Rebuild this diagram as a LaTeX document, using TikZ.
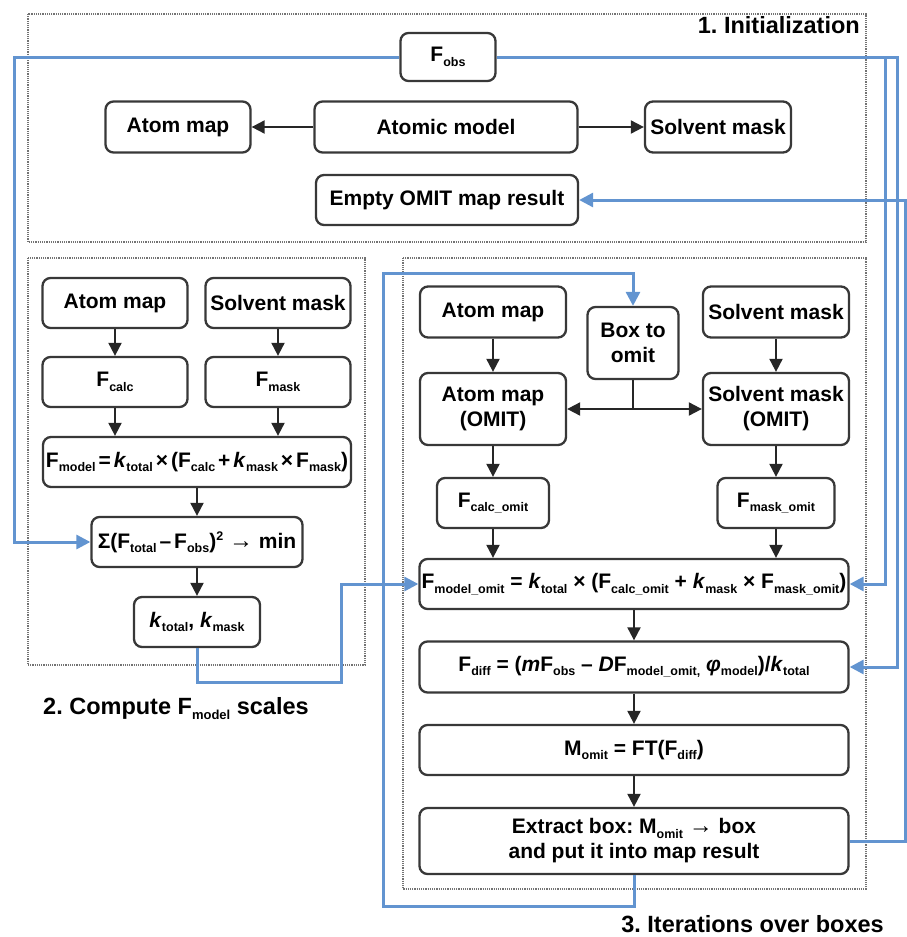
\documentclass[tikz,border=0pt]{standalone}
\usepackage{fontspec}
\setmainfont{Liberation Sans}
\usetikzlibrary{arrows.meta}
\definecolor{lblue}{RGB}{98,148,208}
\newcommand\lsub[1]{\raisebox{-4.5pt}{\fontsize{12.5}{12.5}\selectfont #1}}
\newcommand\lsup[1]{\raisebox{8pt}{\fontsize{12.5}{12.5}\selectfont #1}}
\newcommand\fsp{\hspace{3pt}}
\frenchspacing
\begin{document}
\begin{tikzpicture}[x=1pt,y=-1pt,
 box/.style={draw=black!78, line width=2.3pt, rounded corners=8pt, fill=white, inner sep=0pt, align=center, font=\fontsize{21}{25}\selectfont\bfseries},
 panel/.style={draw=black!55, densely dotted, line width=1.2pt},
 arr/.style={draw=black!85, line width=2pt, -{Triangle[length=13pt,width=13pt]}},
 barr/.style={draw=lblue, line width=3pt, -{Triangle[length=14pt,width=14pt]}},
 title/.style={font=\fontsize{23.5}{28}\selectfont\bfseries, inner sep=0pt}]
\useasboundingbox (0,0) rectangle (907,937);
% panels
\draw[panel] (28,14) rectangle (866,242);
\draw[panel] (28,258) rectangle (365,665);
\draw[panel] (403,258) rectangle (866,889);
\node[title, anchor=base east] (t1) at (860,33) {1. Initialization};
\node[title, anchor=base west] (t2) at (43,714) {2. Compute F\raisebox{-5pt}{\fontsize{13}{13}\selectfont model} scales};
\node[title, anchor=base east] (t3) at (884,932) {3. Iterations over boxes};
% panel 1
\node[box, minimum width=95pt, minimum height=48pt] (fobs) at (448,57) {F\lsub{obs}};
\node[box, minimum width=145pt, minimum height=51pt] (am1) at (178,127) {Atom map};
\node[box, minimum width=263pt, minimum height=51pt] (atm) at (446,127) {Atomic model};
\node[box, minimum width=146pt, minimum height=51pt] (sm1) at (718,127) {Solvent mask};
\node[box, minimum width=262pt, minimum height=50pt] (empty) at (447,200) {Empty OMIT map result};
% panel 2
\node[box, minimum width=145pt, minimum height=50pt] (am2) at (115,303) {Atom map};
\node[box, minimum width=145pt, minimum height=50pt] (sm2) at (278,303) {Solvent mask};
\node[box, minimum width=145pt, minimum height=50pt] (fcalc) at (115,382) {F\lsub{calc}};
\node[box, minimum width=145pt, minimum height=50pt] (fmask) at (278,382) {F\lsub{mask}};
\node[box, minimum width=308pt, minimum height=50pt] (fmodel) at (197,462) {F\lsub{model}\fsp=\fsp\textit{k}\lsub{total}\fsp×\fsp(F\lsub{calc}\fsp+\fsp\textit{k}\lsub{mask}\fsp×\fsp F\lsub{mask})};
\node[box, minimum width=211pt, minimum height=50pt] (sigma) at (197,542) {Σ(F\lsub{total}\fsp–\fsp F\lsub{obs})\lsup{2} {\fontsize{24}{24}\selectfont →} min};
\node[box, minimum width=126pt, minimum height=50pt] (kbox) at (197,622) {\textit{k}\lsub{total}, \textit{k}\lsub{mask}};
% panel 3
\node[box, minimum width=146pt, minimum height=51pt] (am3) at (493,312) {Atom map};
\node[box, minimum width=91pt, minimum height=72pt] (boxomit) at (633,343) {Box to\\omit};
\node[box, minimum width=146pt, minimum height=51pt] (sm3) at (776,312) {Solvent mask};
\node[box, minimum width=146pt, minimum height=72pt] (amo) at (493,409) {Atom map\\(OMIT)};
\node[box, minimum width=146pt, minimum height=72pt] (smo) at (776,409) {Solvent mask\\(OMIT)};
\node[box, minimum width=112pt, minimum height=50pt] (fco) at (493,503) {F\lsub{calc\_omit}};
\node[box, minimum width=117pt, minimum height=50pt] (fmso) at (776,503) {F\lsub{mask\_omit}};
\node[box, minimum width=429pt, minimum height=50pt] (fmo) at (634,584) {F\lsub{model\_omit} = \textit{k}\lsub{total} × (F\lsub{calc\_omit} + \textit{k}\lsub{mask} × F\lsub{mask\_omit})};
\node[box, minimum width=429pt, minimum height=51pt] (fdiff) at (634,667) {F\lsub{diff} = (\textit{m}F\lsub{obs} – \textit{D}F\lsub{model\_omit,} \textit{φ}\lsub{model})/\textit{k}\lsub{total}};
\node[box, minimum width=429pt, minimum height=50pt] (momit) at (634,750) {M\lsub{omit} = FT(F\lsub{diff})};
\node[box, minimum width=429pt, minimum height=66pt] (extract) at (634,841) {Extract box: M\lsub{omit} {\fontsize{24}{24}\selectfont →} box\\and put it into map result};
% black arrows
\draw[arr] (atm.west) -- (am1.east);
\draw[arr] (atm.east) -- (sm1.west);
\draw[arr] (am2.south) -- (fcalc.north);
\draw[arr] (sm2.south) -- (fmask.north);
\draw[arr] (fcalc.south) -- (fcalc.south |- fmodel.north);
\draw[arr] (fmask.south) -- (fmask.south |- fmodel.north);
\draw[arr] (fmodel.south) -- (sigma.north);
\draw[arr] (sigma.south) -- (kbox.north);
\draw[arr] (am3.south) -- (amo.north);
\draw[arr] (sm3.south) -- (smo.north);
\draw[arr] (amo.south) -- (fco.north);
\draw[arr] (smo.south) -- (fmso.north);
\draw[arr] (fco.south) -- (fco.south |- fmo.north);
\draw[arr] (fmso.south) -- (fmso.south |- fmo.north);
\draw[arr] (fmo.south) -- (fdiff.north);
\draw[arr] (fdiff.south) -- (momit.north);
\draw[arr] (momit.south) -- (extract.north);
\draw[arr] (boxomit.south) |- (amo.east);
\draw[arr] (boxomit.south) |- (smo.west);
% blue connectors
\coordinate (cl) at (14,0);
\coordinate (cr1) at (885,0);
\coordinate (cr2) at (897,0);
\coordinate (cr3) at (905,0);
\coordinate (ck) at (341,682);
\coordinate (cb) at (383,906);
\coordinate (ct) at (383,273);
\draw[barr] (fobs.west) -| (cl |- sigma.west) -- (sigma.west);
\draw[barr] (fobs.east) -| (cr1 |- fmo.east) -- (fmo.east);
\draw[barr] (fobs.east) -| (cr2 |- fdiff.east) -- (fdiff.east);
\draw[barr] (extract.east) -| (cr3 |- empty.east) -- (empty.east);
\draw[barr] (kbox.south) |- (ck) |- (fmo.west);
\draw[barr] (extract.south) |- (cb) -- (ct) -| (boxomit.north);
\end{tikzpicture}
\end{document}
